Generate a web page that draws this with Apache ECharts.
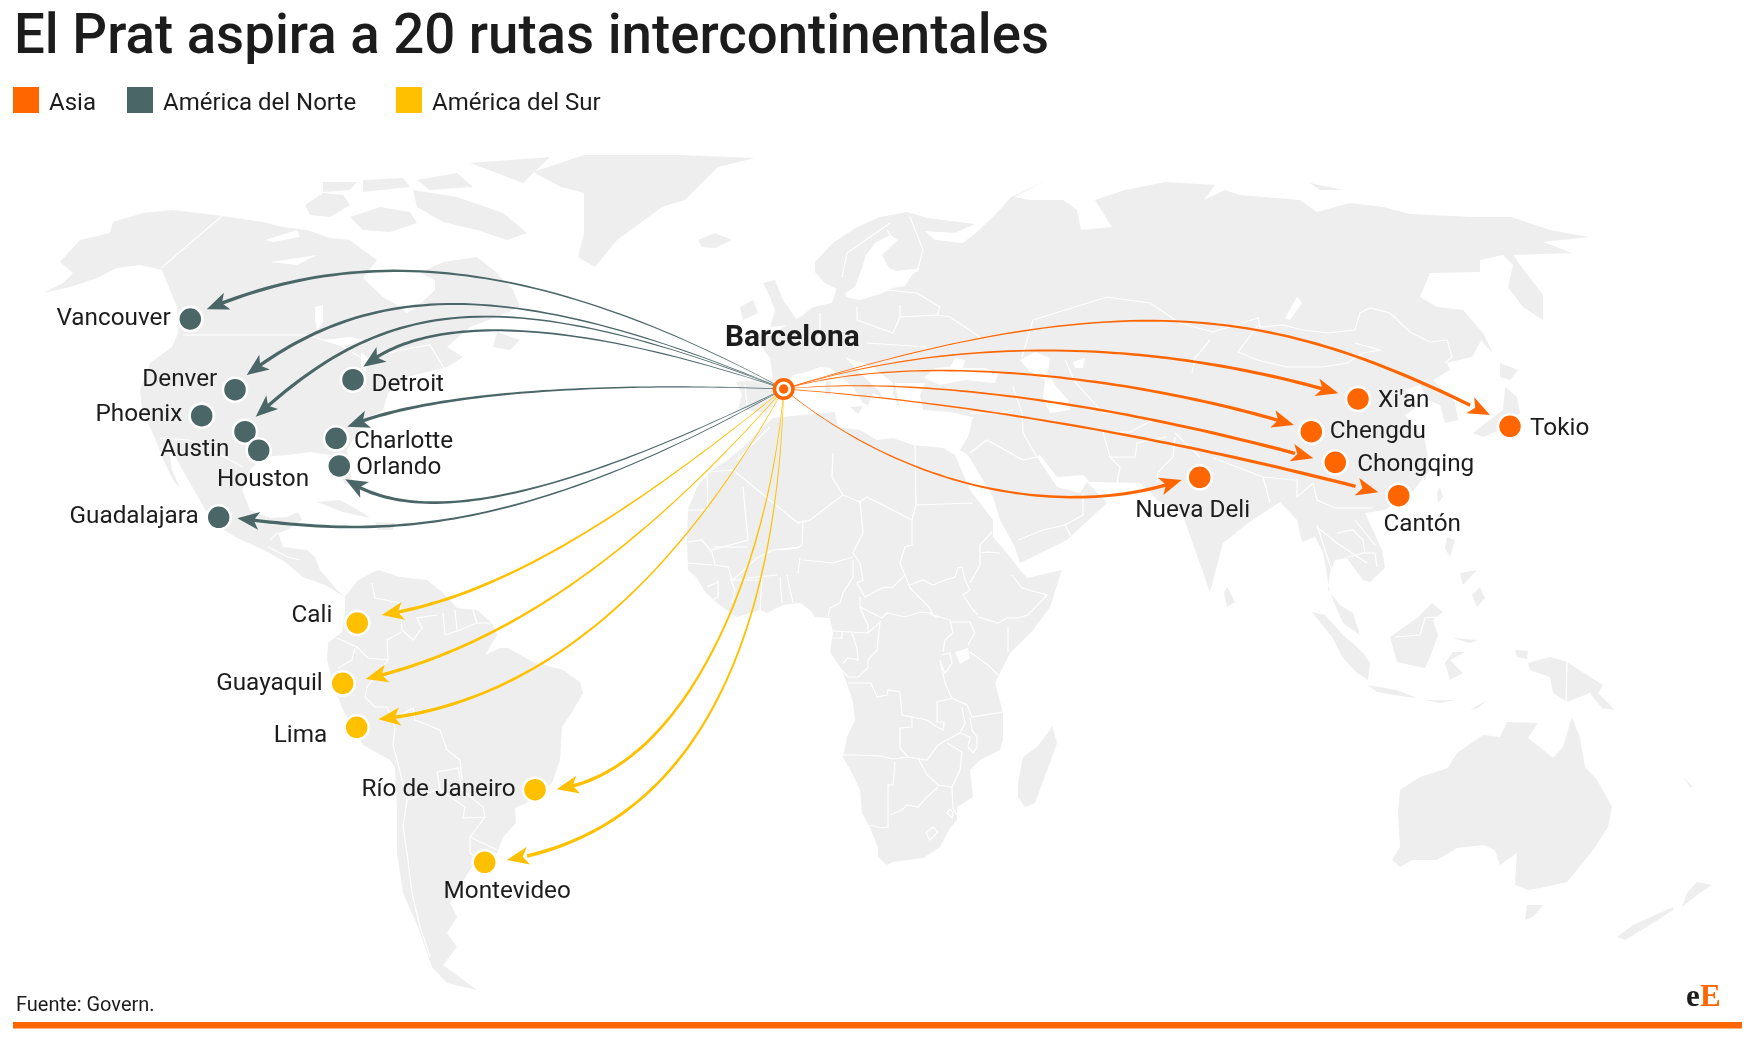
<!DOCTYPE html>
<html>
<head>
<meta charset="utf-8">
<title>El Prat aspira a 20 rutas intercontinentales</title>
<script src="https://cdn.jsdelivr.net/npm/echarts@6/dist/echarts.min.js"></script>
<style>
  html, body { margin: 0; padding: 0; background: #fff; }
  #chart { width: 1755px; height: 1038px; }
</style>
</head>
<body>
<div id="chart"></div>
<script>
// origen de todas las rutas
const barcelona = [783.7, 389];

// ciudades y rutas, en unidades del mapa
const asiaCities = ["Xi'an", 'Chengdu', 'Chongqing', 'Cantón', 'Tokio', 'Nueva Deli'];
const asiaPoints = [[1358, 399], [1311.3, 431.7], [1335.3, 462.3], [1398.7, 495.7], [1510, 426.3], [1199.7, 477.3]];
const asiaTips = [[1338.3, 393.3], [1294, 425], [1313.3, 458.3], [1378.3, 492.3], [1490, 415], [1181.7, 480]];
const asiaBends = [[980, 328, 1180, 347], [920, 350, 1140, 378], [930, 375, 1130, 408], [940, 400, 1150, 432], [1144, 277, 1290, 315], [920, 500, 1080, 516]];

const northCities = ['Vancouver', 'Denver', 'Phoenix', 'Austin', 'Houston', 'Detroit', 'Charlotte', 'Orlando', 'Guadalajara'];
const northPoints = [[190.3, 319], [235, 389.7], [201.7, 415.7], [245, 431.7], [258.7, 450.3], [353, 379.7], [336, 438.3], [339.3, 466], [218.7, 517.3]];
const northTips = [[206.7, 309.3], [246.7, 375], [255.7, 416.7], [363.3, 366.7], [347.3, 426.7], [345.3, 479.3], [237.3, 518.3]];
const northBends = [[533, 253, 357, 246], [504, 272, 367, 284], [484, 272, 376, 308], [524, 302, 411, 327], [600, 382, 430, 392], [544, 506, 415, 526], [504, 546, 367, 534]];

const southCities = ['Cali', 'Guayaquil', 'Lima', 'Río de Janeiro', 'Montevideo'];
const southPoints = [[357.3, 623], [342.7, 683.3], [356.7, 727.3], [535, 789.7], [484.7, 862.3]];
const southTips = [[381.7, 615], [365.7, 679], [378.3, 719.3], [556.7, 789.3], [506.7, 860]];
const southBends = [[610, 530, 490, 598], [625, 570, 490, 650], [660, 610, 520, 705], [770, 560, 690, 770], [778, 600, 716, 826]];

// sitio de cada rótulo respecto a su punto
const labelPlaces = {
  Vancouver: ['right', -19.6, -0.5], Denver: ['right', -17.7, -9.5], Phoenix: ['right', -19.4, -0.5],
  Austin: ['right', -15.7, 18.5], Houston: ['center', 4.3, 30], Detroit: ['left', 18.5, 5.5],
  Charlotte: ['left', 18, 3.5], Orlando: ['left', 17, 2], Guadalajara: ['right', -20, -0.8],
  Cali: ['right', -25, -7], Guayaquil: ['right', -20, 0.8], Lima: ['right', -29.4, 8.5],
  'Río de Janeiro': ['right', -19.3, 0], Montevideo: ['center', 22.5, 29.5],
  "Xi'an": ['left', 20, 2], Chengdu: ['left', 18.4, 0.1], Chongqing: ['left', 22, 2.9],
  'Cantón': ['center', 23.5, 29.5], Tokio: ['left', 20, 2.5], 'Nueva Deli': ['center', -7, 33.5]
};

const ORANGE = '#ff6600';
const SLATE = '#4a6667';
const YELLOW = '#ffc000';
const INK = '#1c1c1c';
const FONT = 'Roboto';

// tierra firme
const northAmerica = [[60,262],[80,240],[110,233],[113,222],[143,213],[173,210],[222,216],[263,222],[283,227],[307,230],[330,238],[350,240],[363,250],[377,260],[363,278],[383,297],[400,307],[407,313],[417,307],[435,290],[435,280],[420,273],[443,262],[477,257],[497,273],[513,290],[520,307],[497,317],[470,327],[447,347],[463,357],[447,367],[407,377],[388,393],[383,410],[363,420],[355,437],[347,450],[352,480],[345,485],[335,460],[330,455],[310,452],[287,455],[263,457],[250,470],[242,490],[250,510],[270,518],[287,517],[298,512],[302,520],[287,530],[278,533],[283,547],[307,550],[315,557],[320,570],[337,590],[345,597],[325,585],[303,577],[285,562],[264,550],[237,538],[213,523],[198,497],[177,460],[168,443],[172,470],[180,488],[173,480],[162,457],[155,438],[142,410],[140,390],[150,363],[172,347],[178,333],[177,307],[170,290],[162,270],[140,265],[117,268],[97,278],[70,287],[43,293],[63,283],[73,273]];
const southAmerica = [[345,597],[358,580],[378,570],[400,577],[427,580],[443,593],[457,608],[477,610],[492,623],[497,635],[485,655],[500,648],[508,648],[533,662],[563,670],[580,682],[583,693],[572,712],[562,727],[560,760],[552,783],[533,800],[515,808],[516,823],[503,837],[497,853],[477,858],[450,903],[457,917],[447,933],[457,947],[443,965],[477,990],[447,983],[432,967],[418,927],[403,893],[397,853],[397,810],[395,767],[390,760],[363,745],[343,710],[333,683],[327,660],[328,643],[342,632],[345,613]];
const africa = [[773,418],[793,416],[835,412],[838,427],[860,430],[877,440],[893,438],[913,445],[943,448],[955,455],[970,490],[993,520],[993,537],[1007,553],[1020,570],[1027,578],[1062,570],[1050,607],[1033,630],[1010,653],[995,683],[1003,713],[1003,740],[1000,750],[980,760],[970,770],[973,797],[957,807],[957,820],[950,828],[940,847],[923,858],[893,862],[887,865],[878,857],[878,848],[870,827],[862,813],[860,790],[852,773],[843,757],[847,737],[855,720],[853,702],[848,687],[842,670],[830,652],[833,633],[830,618],[815,617],[810,610],[800,603],[783,605],[767,613],[760,610],[737,617],[732,614],[717,603],[705,592],[697,578],[688,570],[687,540],[688,510],[697,487],[710,472],[730,458],[743,447],[760,430]];
const eurasia = [[767,413],[752,411],[738,408],[742,395],[736,382],[773,379],[770,358],[750,332],[770,336],[790,323],[803,315],[813,307],[832,303],[836,290],[843,283],[846,297],[860,300],[880,294],[893,288],[905,286],[912,275],[921,268],[896,271],[889,268],[882,255],[898,240],[890,235],[875,243],[866,255],[862,268],[855,287],[845,293],[825,283],[815,272],[815,262],[833,243],[857,227],[880,217],[907,212],[927,218],[975,224],[955,233],[925,231],[935,240],[963,243],[977,232],[997,213],[1011,197],[1047,180],[1014,197],[1030,200],[1063,200],[1077,210],[1081,230],[1112,227],[1095,200],[1125,190],[1165,182],[1215,185],[1204,200],[1225,190],[1240,195],[1300,200],[1317,212],[1350,203],[1383,207],[1410,214],[1472,217],[1511,217],[1550,230],[1589,237],[1543,242],[1572,253],[1513,255],[1520,265],[1543,295],[1543,320],[1523,307],[1508,287],[1513,265],[1503,255],[1480,260],[1480,272],[1430,273],[1420,297],[1437,307],[1463,310],[1483,337],[1472,357],[1447,363],[1450,370],[1433,380],[1455,402],[1458,420],[1445,423],[1440,405],[1428,400],[1420,385],[1405,390],[1420,405],[1405,415],[1425,440],[1430,470],[1410,495],[1385,510],[1365,513],[1375,535],[1382,550],[1385,568],[1370,582],[1363,580],[1352,565],[1347,558],[1335,560],[1330,573],[1328,590],[1340,605],[1353,613],[1360,635],[1343,623],[1330,593],[1323,552],[1315,537],[1302,542],[1297,520],[1280,502],[1248,523],[1223,543],[1210,592],[1182,513],[1157,500],[1153,495],[1140,483],[1090,482],[1083,475],[1057,477],[1040,455],[1037,457],[1057,487],[1080,493],[1087,482],[1107,503],[1083,525],[1067,540],[1020,563],[1015,547],[1000,520],[993,497],[968,455],[960,450],[968,437],[973,417],[950,412],[923,410],[920,395],[925,383],[895,383],[900,410],[893,393],[893,383],[873,367],[845,357],[860,373],[880,392],[883,398],[873,393],[868,405],[863,403],[853,387],[830,368],[820,367],[807,372],[793,375],[783,388],[775,403]];
const greenland = [[755,158],[679,155],[584,155],[533,172],[561,187],[584,193],[584,233],[578,257],[595,267],[617,240],[662,207],[685,200],[718,167]];
const australia = [[1572,717],[1580,738],[1585,767],[1597,780],[1612,807],[1608,827],[1593,850],[1567,882],[1540,888],[1528,890],[1515,885],[1517,853],[1500,865],[1495,850],[1483,845],[1457,848],[1437,860],[1413,860],[1400,867],[1392,860],[1400,847],[1398,813],[1400,790],[1420,777],[1448,768],[1457,753],[1483,735],[1500,737],[1507,722],[1538,723],[1528,738],[1553,758],[1563,747]];
const islands = [
  [[350,217],[380,207],[410,212],[417,223],[390,232],[363,230]],
  [[305,205],[323,193],[343,195],[350,205],[330,217],[310,215]],
  [[413,190],[457,197],[503,213],[527,233],[507,240],[477,230],[443,222],[417,207]],
  [[470,163],[550,157],[523,183],[497,173]],
  [[363,180],[403,178],[410,187],[363,192]],
  [[417,180],[457,173],[473,187],[430,190]],
  [[323,182],[357,182],[350,190],[323,192]],
  [[497,332],[520,340],[510,350],[493,347]],
  [[317,502],[340,500],[363,513],[370,518],[343,512]],
  [[375,522],[395,523],[393,530],[378,530]],
  [[698,240],[715,233],[732,240],[715,248],[702,247]],
  [[763,283],[775,280],[783,300],[797,320],[790,325],[770,327],[775,310],[770,297]],
  [[740,307],[753,300],[758,313],[743,320]],
  [[850,407],[863,406],[858,414]],
  [[826,380],[831,382],[830,395],[825,394]],
  [[1052,725],[1057,743],[1052,757],[1035,803],[1025,807],[1018,797],[1018,783],[1023,757],[1037,747],[1050,730]],
  [[1227,587],[1235,602],[1227,607],[1224,593]],
  [[1505,387],[1517,397],[1520,413],[1500,430],[1483,437],[1473,433],[1487,422],[1503,410]],
  [[1500,363],[1518,370],[1510,380],[1500,377]],
  [[1463,310],[1483,333],[1493,353],[1487,347],[1465,320]],
  [[1440,487],[1443,497],[1438,503],[1437,493]],
  [[1447,537],[1455,540],[1450,557],[1445,548]],
  [[1472,595],[1480,587],[1485,598],[1477,607]],
  [[1460,573],[1477,570],[1463,585]],
  [[1312,612],[1325,615],[1343,635],[1357,647],[1363,653],[1370,663],[1368,680],[1357,673],[1343,658],[1332,637],[1320,622]],
  [[1432,603],[1443,612],[1433,620],[1438,635],[1430,657],[1425,668],[1397,662],[1390,637],[1403,628],[1417,618]],
  [[1368,685],[1397,690],[1417,698],[1407,697],[1377,692]],
  [[1425,700],[1455,700],[1440,703]],
  [[1470,710],[1487,700],[1478,708]],
  [[1453,652],[1465,652],[1450,660],[1463,673],[1450,680],[1445,663]],
  [[1452,638],[1478,640],[1470,643]],
  [[1515,650],[1528,651],[1527,659],[1517,657]],
  [[1528,663],[1550,657],[1567,662],[1590,677],[1603,685],[1598,693],[1615,710],[1602,708],[1590,693],[1567,702],[1553,693],[1550,677],[1530,670]],
  [[1527,905],[1543,905],[1533,917],[1525,920]],
  [[1697,882],[1712,885],[1697,895],[1682,907],[1687,893]],
  [[1673,907],[1673,910],[1650,925],[1625,940],[1617,937],[1633,925],[1660,913]],
  [[1683,777],[1693,787],[1690,787]],
  [[1310,183],[1343,190],[1320,190]]
];
const lakes = [
  [[323,340],[350,337],[363,340],[343,347]],
  [[315,307],[323,305],[323,323],[317,330],[315,320]],
  [[265,240],[297,230],[300,237],[273,242]],
  [[270,262],[317,255],[297,265]],
  [[361,353],[367,357],[366,372],[361,368]],
  [[924,378],[935,368],[950,367],[955,358],[965,360],[963,368],[985,368],[998,374],[995,383],[965,380],[940,385]],
  [[1020,360],[1035,352],[1050,358],[1048,372],[1055,385],[1068,400],[1070,410],[1050,413],[1043,398],[1045,380],[1030,372]],
  [[1073,362],[1085,358],[1083,368],[1075,368]],
  [[1297,297],[1302,303],[1290,320],[1285,318]],
  [[955,652],[968,648],[970,658],[960,664]]
];

// fronteras
const borders = [
  [[222,216],[161,268]], [[183,335],[307,335],[340,345],[365,360],[400,350],[430,345],[445,370]],
  [[160,438],[190,440],[217,453],[243,467]], [[270,540],[277,533],[293,532]], [[268,547],[288,557],[300,560]],
  [[372,583],[375,598],[400,603],[402,630],[413,640],[422,628],[417,618],[437,615]],
  [[443,613],[445,635]], [[455,610],[457,630]], [[473,610],[477,623]], [[445,635],[460,630],[477,623],[492,623]],
  [[401,632],[387,640],[388,660]], [[337,638],[357,647],[368,658],[388,660]], [[355,648],[352,660],[338,668]],
  [[388,660],[367,687],[365,697],[375,707],[387,707],[395,727],[393,745],[397,760]],
  [[397,717],[413,708],[415,720],[440,730],[447,750],[460,760],[462,780]],
  [[397,760],[407,800],[437,790]],
  [[437,772],[458,768],[462,790],[483,807],[485,817],[463,818],[465,807],[440,790],[437,772]],
  [[407,800],[403,827],[407,853],[412,893],[420,927],[430,957]],
  [[485,817],[473,833],[470,837],[470,853],[477,858]], [[470,837],[497,850]],
  [[915,445],[916,505],[973,503]], [[912,520],[912,545],[905,547],[900,563],[905,575]], [[916,505],[912,520]],
  [[833,453],[832,477],[843,495],[860,502],[867,497],[912,520]], [[843,495],[810,520],[798,523],[733,470]],
  [[743,487],[748,540],[712,550]], [[737,460],[770,427]], [[733,470],[707,472],[708,510],[688,510]],
  [[860,502],[863,533],[853,553],[860,563],[863,580],[857,583],[865,597]],
  [[773,550],[800,547]], [[803,560],[833,563],[853,557]], [[803,520],[802,545],[797,548],[780,550]],
  [[713,547],[748,547]], [[688,542],[702,540],[712,552]], [[687,563],[713,565]],
  [[712,552],[715,565],[728,567],[732,580],[760,580]], [[730,578],[735,590],[732,603]],
  [[707,587],[718,582],[718,597],[712,600]], [[762,577],[760,610]], [[780,577],[782,603]], [[787,575],[793,603]],
  [[733,580],[757,558],[773,550]], [[747,578],[777,575]], [[798,573],[800,558]],
  [[853,560],[853,577],[843,593],[840,603],[830,608],[828,617]],
  [[865,597],[882,588],[893,587],[905,575],[910,588],[920,598],[930,608],[933,615],[950,620]],
  [[910,585],[923,580],[933,585],[945,580],[955,577],[958,568],[962,567],[965,580],[970,590],[963,595],[973,610],[978,615]],
  [[980,553],[988,552],[1000,553]], [[992,532],[980,545],[980,565],[970,583]],
  [[1012,575],[1022,588],[1047,595],[1028,615],[1017,618]], [[978,617],[998,623],[1007,618],[1017,618]],
  [[1008,627],[1008,652]], [[975,633],[968,645]], [[970,652],[988,665],[998,675]],
  [[950,620],[953,633],[945,640],[943,652]], [[950,622],[970,622],[975,633]],
  [[860,607],[882,618],[887,613],[905,617],[920,612],[930,613],[937,618]], [[860,597],[860,608],[868,625],[868,633]],
  [[868,633],[880,622],[877,650],[868,660],[868,668],[858,677],[848,677],[842,670]],
  [[852,633],[857,648],[858,660],[848,658],[843,663]], [[833,631],[868,633]], [[833,638],[842,638],[842,632]],
  [[848,683],[871,683],[877,697],[887,695],[888,690],[900,692],[902,715],[912,717],[912,727],[900,728],[900,748],[908,757]],
  [[912,717],[927,720],[937,727],[943,730],[944,722],[937,722],[937,702],[952,698]],
  [[940,660],[945,683],[952,698],[967,705],[972,717],[1003,712]],
  [[942,655],[950,653],[952,663],[945,673],[940,662]],
  [[962,707],[965,723],[960,733],[970,737],[968,747],[973,753],[977,747],[977,737],[972,730],[970,718]],
  [[960,733],[947,740],[938,745],[927,760],[908,757]], [[947,743],[962,752],[960,770],[952,787]],
  [[918,758],[927,775],[938,785],[952,787]], [[843,755],[857,755],[880,756],[893,759],[908,757]],
  [[895,762],[893,785],[888,785],[888,827],[880,828],[870,825]],
  [[890,815],[902,810],[907,805],[918,807],[927,797],[938,787]], [[952,787],[953,808],[957,815]],
  [[950,809],[947,813],[952,818],[953,813],[950,809]], [[933,827],[926,833],[930,840],[938,832],[933,827]],
  [[1258,317],[1260,327],[1283,325],[1303,330],[1328,333],[1355,330],[1360,313],[1370,308],[1390,313],[1410,332],[1430,342],[1447,340],[1452,357],[1445,363]],
  [[1355,343],[1380,350],[1363,353],[1347,363],[1323,367],[1287,367],[1257,360],[1238,352],[1260,323]],
  [[1033,320],[1075,307],[1107,297],[1150,303],[1180,323],[1213,332],[1258,318]], [[1022,357],[1033,320]],
  [[1210,340],[1195,358],[1192,373]],
  [[900,317],[937,315],[950,317],[980,337]], [[887,290],[917,293],[940,307],[937,315]], [[900,305],[900,317],[893,333]],
  [[857,307],[857,320],[893,333]], [[820,313],[820,333],[817,350]], [[750,380],[773,385]], [[745,385],[747,405]],
  [[890,223],[847,253],[842,277]], [[887,230],[890,235]], [[910,217],[923,250],[917,272]], [[867,343],[927,347]],
  [[970,413],[1000,413],[1013,410]], [[1013,387],[1022,413],[1023,433],[1037,457]], [[970,453],[987,440],[1023,460],[1037,457]],
  [[1018,540],[1043,530],[1065,525],[1083,515],[1083,493]], [[1065,525],[1072,538]],
  [[1103,432],[1110,457],[1120,467],[1117,483]], [[1110,457],[1135,457],[1137,443],[1167,437]],
  [[1103,432],[1130,432],[1153,420]], [[1175,437],[1173,457],[1158,472],[1157,483]],
  [[1065,360],[1075,382],[1103,413],[1123,413]], [[1213,458],[1263,477],[1295,480]], [[1175,433],[1200,457]],
  [[1263,477],[1270,503]], [[1297,478],[1297,497],[1313,483],[1317,500],[1335,508],[1347,508],[1373,508]],
  [[1317,527],[1337,543],[1367,563]], [[1317,525],[1325,550],[1332,572]], [[1337,533],[1353,530],[1363,540],[1365,553]],
  [[1348,557],[1363,553],[1375,553],[1377,567]], [[1355,520],[1375,545]],
  [[1395,637],[1420,635],[1425,618],[1437,617]], [[1567,662],[1566,702]]
];

const polygon = (name, rings) => ({
  type: 'Feature',
  properties: { name: name },
  geometry: { type: 'MultiPolygon', coordinates: rings.map(r => [r.concat([r[0]])]) }
});

echarts.registerMap('mundo', {
  type: 'FeatureCollection',
  features: [
    polygon('marco', [[[0, 0], [1755, 0], [1755, 1038], [0, 1038]]]),
    polygon('tierra', [northAmerica, southAmerica, africa, eurasia, greenland, australia].concat(islands)),
    polygon('lagos', lakes)
  ]
});

const flatProjection = {
  project: p => [p[0], p[1]],
  unproject: p => [p[0], p[1]]
};

const cityData = (names, points) => names.map((name, i) => {
  const place = labelPlaces[name];
  return {
    name: name,
    value: points[i],
    label: { position: 'inside', align: place[0], offset: [place[1], place[2]] }
  };
});

// curva que engorda desde Barcelona hasta la punta de flecha
function renderRoute(params, api) {
  const color = api.visual('color');
  const p0 = api.coord(barcelona);
  const p3 = api.coord([api.value(0), api.value(1)]);
  const p1 = api.coord([api.value(2), api.value(3)]);
  const p2 = api.coord([api.value(4), api.value(5)]);
  const n = 60;
  const pts = [];
  for (let i = 0; i <= n; i++) {
    const t = i / n, u = 1 - t;
    pts.push([
      u * u * u * p0[0] + 3 * u * u * t * p1[0] + 3 * u * t * t * p2[0] + t * t * t * p3[0],
      u * u * u * p0[1] + 3 * u * u * t * p1[1] + 3 * u * t * t * p2[1] + t * t * t * p3[1]
    ]);
  }
  // recorte de la cola: termina dentro de la flecha
  let end = n;
  while (end > 1 && Math.hypot(pts[end][0] - p3[0], pts[end][1] - p3[1]) < 12) end--;
  let back = n;
  while (back > 1 && Math.hypot(pts[back][0] - p3[0], pts[back][1] - p3[1]) < 20) back--;

  const left = [], right = [];
  for (let i = 0; i <= end; i++) {
    const a = pts[Math.max(i - 1, 0)], b = pts[Math.min(i + 1, n)];
    const d = Math.hypot(b[0] - a[0], b[1] - a[1]) || 1;
    const w = (0.55 + 3 * i / n) / 2;
    const nx = -(b[1] - a[1]) / d, ny = (b[0] - a[0]) / d;
    left.push([pts[i][0] + nx * w, pts[i][1] + ny * w]);
    right.unshift([pts[i][0] - nx * w, pts[i][1] - ny * w]);
  }

  const dx = p3[0] - pts[back][0], dy = p3[1] - pts[back][1];
  const d = Math.hypot(dx, dy) || 1;
  const ux = dx / d, uy = dy / d;
  const wing = (along, side) => [p3[0] - ux * along - uy * side, p3[1] - uy * along + ux * side];

  return {
    type: 'group',
    children: [
      { type: 'polygon', shape: { points: left.concat(right) }, style: { fill: color }, silent: true },
      { type: 'polygon', shape: { points: [p3, wing(22, 9), wing(16.5, 0), wing(22, -9)] }, style: { fill: color }, silent: true }
    ]
  };
}

const routeSeries = (name, color, tips, bends) => ({
  name: name,
  type: 'custom',
  coordinateSystem: 'geo',
  renderItem: renderRoute,
  itemStyle: { color: color },
  silent: true,
  z: 3,
  data: tips.map((tip, i) => tip.concat(bends[i]))
});

const citySeries = (name, color, names, points) => ({
  name: name,
  type: 'scatter',
  coordinateSystem: 'geo',
  symbol: 'circle',
  symbolSize: 24,
  itemStyle: { color: color, borderColor: '#fff', borderWidth: 2.5, opacity: 1 },
  label: { show: true, formatter: '{b}', fontFamily: FONT, fontSize: 24.3, color: INK, verticalAlign: 'middle' },
  silent: true,
  z: 4,
  data: cityData(names, points)
});

const legendEntry = (name, left) => ({
  data: [{ name: name, icon: 'rect' }],
  left: left,
  top: 87,
  orient: 'horizontal',
  padding: 0,
  itemWidth: 26,
  itemHeight: 26,
  selectedMode: false,
  formatter: '{a|{name}}',
  textStyle: {
    rich: { a: { fontFamily: FONT, fontSize: 24, color: INK, padding: [7, 0, 0, 5] } }
  }
});

const chart = echarts.init(document.getElementById('chart'), null, { renderer: 'canvas' });

chart.setOption({
  animation: false,
  backgroundColor: '#fff',
  title: [{
    text: 'El Prat aspira a 20 rutas intercontinentales',
    left: 14,
    top: 12,
    padding: 0,
    textStyle: { fontFamily: FONT, fontSize: 54.6, fontWeight: 500, color: INK }
  }, {
    text: 'Fuente: Govern.',
    left: 16,
    top: 996,
    padding: 0,
    textStyle: { fontFamily: FONT, fontSize: 20, fontWeight: 400, color: INK }
  }],
  legend: [legendEntry('Asia', 13), legendEntry('América del Norte', 127), legendEntry('América del Sur', 396)],
  geo: {
    map: 'mundo',
    projection: flatProjection,
    left: 0,
    top: 0,
    width: 1755,
    height: 1038,
    roam: false,
    silent: true,
    itemStyle: { areaColor: '#eeeeee', borderWidth: 0, borderColor: '#eeeeee' },
    regions: [
      { name: 'marco', itemStyle: { areaColor: '#ffffff', borderWidth: 0, borderColor: '#ffffff' } },
      { name: 'lagos', itemStyle: { areaColor: '#ffffff', borderWidth: 0, borderColor: '#ffffff' } }
    ],
    label: { show: false },
    emphasis: { disabled: true }
  },
  series: [
    {
      name: 'Fronteras',
      type: 'lines',
      coordinateSystem: 'geo',
      polyline: true,
      silent: true,
      z: 2,
      lineStyle: { color: '#ffffff', width: 1.2, opacity: 1 },
      data: borders.map(line => ({ coords: line }))
    },
    routeSeries('Asia', ORANGE, asiaTips, asiaBends),
    routeSeries('América del Norte', SLATE, northTips, northBends),
    routeSeries('América del Sur', YELLOW, southTips, southBends),
    citySeries('Asia', ORANGE, asiaCities, asiaPoints),
    citySeries('América del Norte', SLATE, northCities, northPoints),
    citySeries('América del Sur', YELLOW, southCities, southPoints),
    {
      name: 'Barcelona',
      type: 'scatter',
      coordinateSystem: 'geo',
      symbolSize: 18.5,
      itemStyle: { color: '#fff', borderColor: ORANGE, borderWidth: 3.5, opacity: 1 },
      label: {
        show: true, formatter: '{b}', position: 'inside', align: 'center', verticalAlign: 'middle',
        offset: [8.6, -50.5], fontFamily: FONT, fontSize: 29.8, fontWeight: 700, color: INK
      },
      silent: true,
      z: 5,
      data: [{ name: 'Barcelona', value: barcelona }]
    },
    {
      name: 'Barcelona centro',
      type: 'scatter',
      coordinateSystem: 'geo',
      symbolSize: 9.5,
      itemStyle: { color: ORANGE, opacity: 1 },
      silent: true,
      z: 6,
      data: [barcelona]
    }
  ],
  graphic: [
    { type: 'rect', z: 10, left: 13, top: 1022, shape: { width: 1729, height: 6.5 }, style: { fill: ORANGE }, silent: true },
    { type: 'text', z: 10, left: 1686, top: 982, style: { text: 'e', fontFamily: 'Liberation Serif', fontWeight: 700, fontSize: 31, fill: INK }, silent: true },
    { type: 'text', z: 10, left: 1700, top: 982, style: { text: 'E', fontFamily: 'Liberation Serif', fontWeight: 700, fontSize: 31, fill: ORANGE }, silent: true }
  ]
});
</script>
</body>
</html>
